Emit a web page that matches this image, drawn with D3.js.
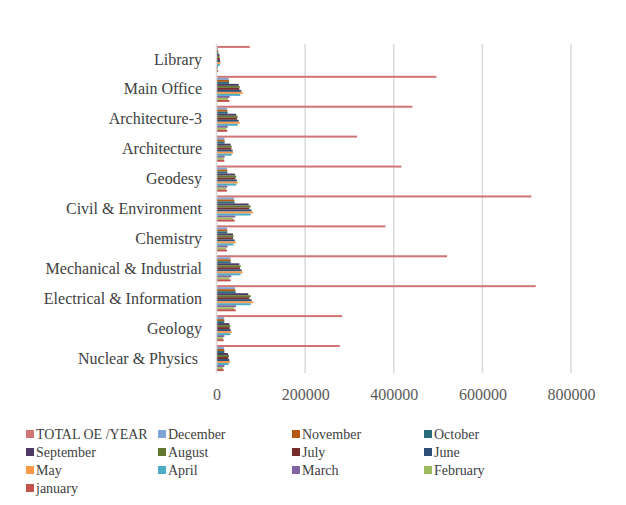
<!DOCTYPE html>
<html>
<head>
<meta charset="utf-8">
<script src="https://cdn.jsdelivr.net/npm/d3@7"></script>
<style>
  html, body { margin: 0; padding: 0; background: #fff; }
  svg { display: block; }
  text { font-family: "Liberation Serif", "Times New Roman", serif; }
</style>
</head>
<body>
<svg id="chart" width="626" height="505"></svg>
<script>
// Buildings, listed top to bottom
const categories = [
  "Library", "Main Office", "Architecture-3", "Architecture", "Geodesy",
  "Civil & Environment", "Chemistry", "Mechanical & Industrial",
  "Electrical & Information", "Geology", "Nuclear & Physics "
];

// Series, in legend order (also top-to-bottom inside each group)
const seriesNames = [
  "TOTAL OE /YEAR", "December", "November", "October", "September", "August",
  "July", "June", "May", "April", "March", "February", "january"
];

const seriesColors = [
  "#D07573", "#7EA4D6", "#B65A12", "#276C7A", "#4D3B66", "#63782F",
  "#7A2C2C", "#2C4E78", "#F7994B", "#4BADC6", "#8266A3", "#9DBB5C", "#C2514E"
];

// Values per series, one entry per building (same order as categories)
const totalYear = [75200, 496300, 442200, 317300, 417400, 710600, 381300, 520400, 720400, 283500, 278200];
const december  = [3400, 27400, 23700, 17700, 23700, 39500, 23700, 31200, 41700, 16900, 16900];
const november  = [4100, 28200, 24400, 18400, 24400, 40200, 24400, 32000, 42500, 17700, 17700];
const october   = [4100, 28200, 25200, 18400, 24400, 41000, 24400, 32000, 43200, 17700, 17700];
const september = [6800, 50000, 44700, 32000, 41700, 72600, 37200, 51500, 71800, 29000, 25900];
const august    = [6800, 52300, 47800, 34200, 44700, 77100, 38700, 54500, 77100, 31200, 28200];
const july      = [7500, 51500, 46200, 33500, 42500, 74100, 37200, 53000, 74100, 29700, 26700];
const june      = [8300, 56000, 50000, 36500, 46200, 79300, 41000, 56800, 79300, 32000, 29000];
const may       = [9000, 59000, 52300, 37200, 47800, 82300, 43200, 59000, 83100, 34200, 30500];
const april     = [7500, 53800, 47800, 34200, 44700, 77100, 38700, 54500, 77100, 31200, 27400];
const march     = [3400, 29700, 25200, 18400, 24400, 42500, 25200, 33500, 44000, 17700, 17700];
const february  = [3000, 26000, 22200, 16200, 21400, 37200, 21400, 29000, 39500, 14700, 14700];
const january   = [3800, 29000, 24400, 17700, 23700, 41000, 23700, 32000, 43200, 16200, 16200];

const xTicks = [0, 200000, 400000, 600000, 800000];

const seriesValues = [
  totalYear, december, november, october, september, august,
  july, june, may, april, march, february, january
];

const svg = d3.select("#chart");

const plot = { left: 216.5, right: 571, top: 44, bottom: 373 };

const x = d3.scaleLinear().domain([0, 800000]).range([plot.left, plot.right]);
const y0 = d3.scaleBand().domain(categories).range([plot.top, plot.bottom]).paddingInner(0).paddingOuter(0);
const y1 = d3.scaleBand().domain(seriesNames).range([0, y0.bandwidth()]).paddingInner(0).paddingOuter(0.95);

// vertical gridlines
svg.append("g")
  .selectAll("line")
  .data(xTicks.slice(1))
  .join("line")
  .attr("x1", d => x(d)).attr("x2", d => x(d))
  .attr("y1", plot.top).attr("y2", plot.bottom)
  .attr("stroke", "#d9d9d9").attr("stroke-width", 1.5);

// bars
const groups = svg.append("g")
  .selectAll("g")
  .data(categories)
  .join("g")
  .attr("transform", c => `translate(0,${y0(c)})`);

groups.selectAll("rect")
  .data((c, ci) => seriesNames.map((s, si) => ({ s, v: seriesValues[si][ci], color: seriesColors[si] })))
  .join("rect")
  .attr("x", x(0))
  .attr("y", d => y1(d.s))
  .attr("width", d => x(d.v) - x(0))
  .attr("height", y1.bandwidth())
  .attr("fill", d => d.color);

// category axis line
svg.append("line")
  .attr("x1", x(0)).attr("x2", x(0))
  .attr("y1", plot.top).attr("y2", plot.bottom)
  .attr("stroke", "#d9d9d9").attr("stroke-width", 1.5);

// category labels
svg.append("g")
  .selectAll("text")
  .data(categories)
  .join("text")
  .attr("x", 202)
  .attr("y", c => y0(c) + y0.bandwidth() / 2)
  .attr("dy", "0.35em")
  .attr("text-anchor", "end")
  .attr("font-size", 16)
  .attr("fill", "#404040")
  .style("white-space", "pre")
  .text(c => c);

// value axis labels
const xAxis = d3.axisBottom(x).tickValues(xTicks).tickSize(0).tickPadding(0).tickFormat(d3.format("d"));
const xg = svg.append("g").attr("transform", `translate(0,${plot.bottom + 16})`).call(xAxis);
xg.select(".domain").remove();
xg.selectAll("text")
  .attr("font-family", "'Liberation Serif', 'Times New Roman', serif")
  .attr("font-size", 16)
  .attr("fill", "#595959");

// legend
const legendCols = [26, 158, 292, 424];
const legendRows = [434, 452, 470, 488];
const legend = svg.append("g")
  .selectAll("g")
  .data(seriesNames)
  .join("g")
  .attr("transform", (d, i) => `translate(${legendCols[i % 4]},${legendRows[Math.floor(i / 4)]})`);

legend.append("rect")
  .attr("x", 0).attr("y", -4)
  .attr("width", 8).attr("height", 8)
  .attr("fill", (d, i) => seriesColors[i]);

legend.append("text")
  .attr("x", 10)
  .attr("y", 0)
  .attr("dy", "0.35em")
  .attr("font-size", 14)
  .attr("fill", "#404040")
  .text(d => d);
</script>
</body>
</html>
